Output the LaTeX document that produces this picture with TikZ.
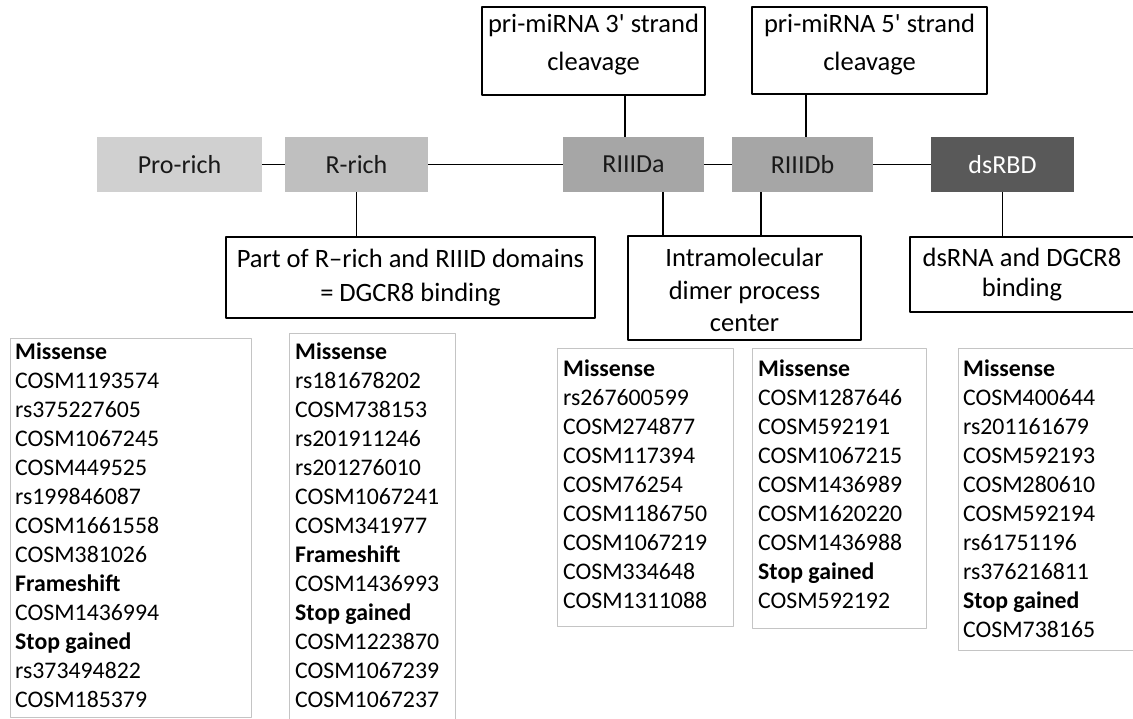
\documentclass[tikz,border=0pt]{standalone}
\usepackage{fontspec}
\setmainfont{Carlito}[Ligatures=TeXOff]
\begin{document}
\begin{tikzpicture}[x=1pt,y=-1pt,line join=round]
	\definecolor{prorich}{HTML}{D0D0D0}
	\definecolor{rrich}{HTML}{BFBFBF}
	\definecolor{riiid}{HTML}{A6A6A6}
	\definecolor{dsrbd}{HTML}{595959}
	\definecolor{listgray}{HTML}{C4C4C4}
	\useasboundingbox (0,0) rectangle (1133,718);
	\clip (0,0) rectangle (1133,718);
	
	\tikzset{domainbox/.style={minimum height=55pt,inner sep=0pt,text=black!90,
			font=\fontsize{26}{31}\selectfont},
		infobox/.style={draw=black,line width=1.3pt,inner sep=0pt},
		infotext/.style={align=center,inner sep=0pt,font=\fontsize{26.5}{#1}\selectfont},
		listbox/.style={draw=listgray,line width=1.4pt,inner sep=0pt,anchor=north west},
		listtext/.style={align=left,inner sep=0pt,anchor=north west,
			font=\fontsize{23.8}{29}\selectfont},
		link/.style={line width=1.3pt}}
	
	%------------domains
	\node[domainbox,fill=prorich,minimum width=165pt] (pro) at (179.5,164.5) {Pro-rich};
	\node[domainbox,fill=rrich,minimum width=143pt] (rrich) at (356.5,164.5) {R-rich};
	\node[domainbox,fill=riiid,minimum width=141pt] (riiida) at (633.5,164.5) {RIIIDa};
	\node[domainbox,fill=riiid,minimum width=141pt] (riiidb) at (802.5,164.5) {RIIIDb};
	\node[domainbox,fill=dsrbd,text=white,minimum width=143pt] (dsrbd) at (1002.5,164.5) {dsRBD};
	\draw[link] (pro)--(rrich) (rrich)--(riiida) (riiida)--(riiidb) (riiidb)--(dsrbd);
	
	%------------functions
	\node[infobox,minimum width=223pt,minimum height=88pt] (cleavthree) at (593.5,51) {};
	\node[infotext=38] at ([yshift=6pt]cleavthree.center) {pri-miRNA 3' strand\\cleavage};
	\node[infobox,minimum width=235pt,minimum height=87pt] (cleavfive) at (869.5,50.5) {};
	\node[infotext=38] at ([yshift=6pt]cleavfive.center) {pri-miRNA 5' strand\\cleavage};
	\node[infobox,minimum width=369pt,minimum height=81pt] (dgcr) at (410.5,277.5) {};
	\node[infotext=34] at (dgcr.center) {Part of R–rich and RIIID domains\\= DGCR8 binding};
	\node[infobox,minimum width=233pt,minimum height=104pt] (dimer) at (744.5,288) {};
	\node[infotext=32.5] at ([yshift=-2pt]dimer.center) {Intramolecular\\dimer process\\center};
	\node[infobox,minimum width=224pt,minimum height=75pt] (dsrna) at (1022,274.5) {};
	\node[infotext=30] at (dsrna.center) {dsRNA and DGCR8\\binding};
	
	\coordinate (xthree) at (625,0);
	\coordinate (xdimera) at (663,0);
	\coordinate (xdimerb) at (761,0);
	\coordinate (xfive) at (806,0);
	\draw[link] (xthree |- riiida.north)--(xthree |- cleavthree.south);
	\draw[link] (xfive |- riiidb.north)--(xfive |- cleavfive.south);
	\draw[link] (rrich.south)--(rrich.south |- dgcr.north);
	\draw[link] (xdimera |- riiida.south)--(xdimera |- dimer.north);
	\draw[link] (xdimerb |- riiidb.south)--(xdimerb |- dimer.north);
	\draw[link] (dsrbd.south)--(dsrbd.south |- dsrna.north);
	
	%------------variants
	\node[listbox,minimum width=241pt,minimum height=379pt] (listpro) at (10,338) {};
	\node[listtext] at (15,342.5) {\textbf{Missense}\\COSM1193574\\rs375227605\\COSM1067245\\COSM449525\\rs199846087\\COSM1661558\\COSM381026\\\textbf{Frameshift}\\COSM1436994\\\textbf{Stop gained}\\rs373494822\\COSM185379};
	\node[listbox,minimum width=166pt,minimum height=395pt] (listr) at (289,333) {};
	\node[listtext] at (295,342.5) {\textbf{Missense}\\rs181678202\\COSM738153\\rs201911246\\rs201276010\\COSM1067241\\COSM341977\\\textbf{Frameshift}\\COSM1436993\\\textbf{Stop gained}\\COSM1223870\\COSM1067239\\COSM1067237};
	\node[listbox,minimum width=176pt,minimum height=278pt] (lista) at (557,348) {};
	\node[listtext] at (563,359.5) {\textbf{Missense}\\rs267600599\\COSM274877\\COSM117394\\COSM76254\\COSM1186750\\COSM1067219\\COSM334648\\COSM1311088};
	\node[listbox,minimum width=174pt,minimum height=280pt] (listb) at (752,348) {};
	\node[listtext] at (758,359.5) {\textbf{Missense}\\COSM1287646\\COSM592191\\COSM1067215\\COSM1436989\\COSM1620220\\COSM1436988\\\textbf{Stop gained}\\COSM592192};
	\node[listbox,minimum width=185pt,minimum height=302pt] (listds) at (958,348) {};
	\node[listtext] at (963,359.5) {\textbf{Missense}\\COSM400644\\rs201161679\\COSM592193\\COSM280610\\COSM592194\\rs61751196\\rs376216811\\\textbf{Stop gained}\\COSM738165};
\end{tikzpicture}
\end{document}
